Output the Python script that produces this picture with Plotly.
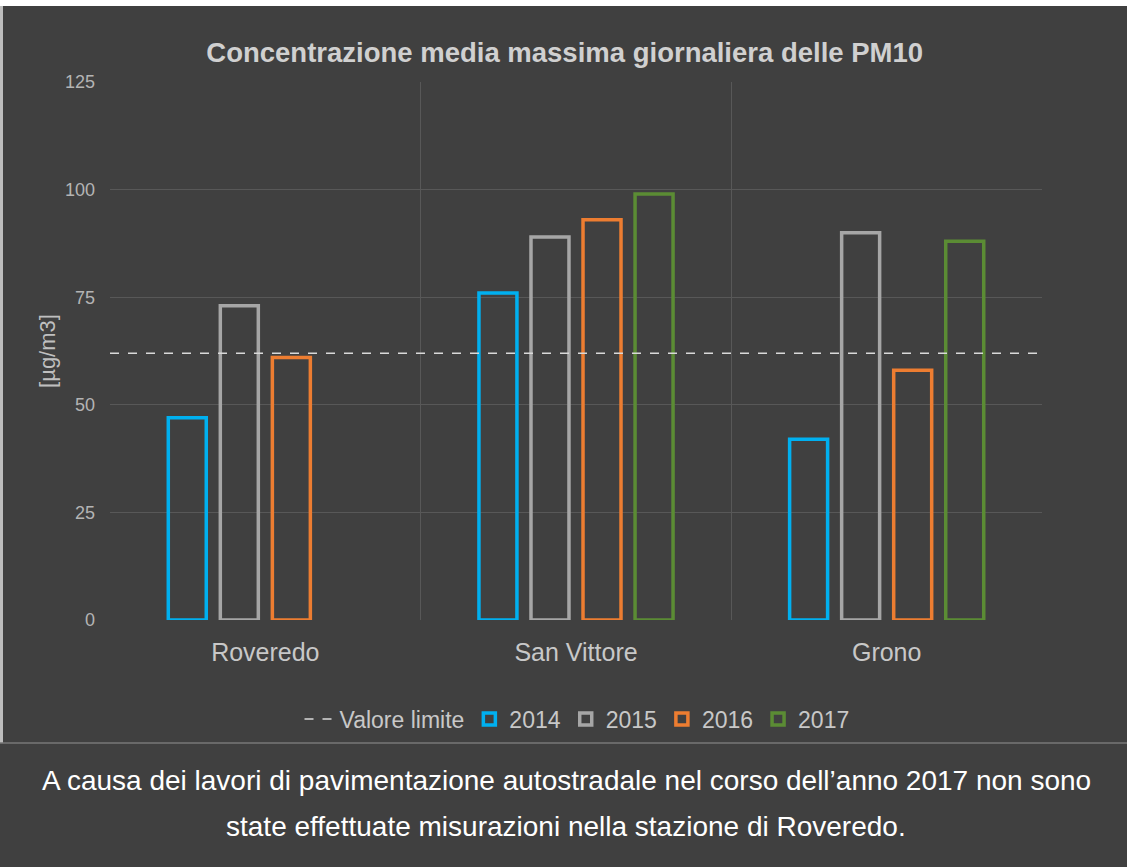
import plotly.graph_objects as go

categories = ["Roveredo", "San Vittore", "Grono"]
years = ["2014", "2015", "2016", "2017"]
values = {
    "2014": [47, 76, 42],
    "2015": [73, 89, 90],
    "2016": [61, 93, 58],
    "2017": [None, 99, 88],
}
limit_value = 62
limit_name = "Valore limite"
title_text = "Concentrazione media massima giornaliera delle PM10"
y_title = "[µg/m3]"
caption_lines = [
    "A causa dei lavori di pavimentazione autostradale nel corso dell’anno 2017 non sono",
    "state effettuate misurazioni nella stazione di Roveredo.",
]

colors = {"2014": "#00b0f0", "2015": "#a6a6a6", "2016": "#ed7d31", "2017": "#5b8c34"}
BG = "#404040"
FONT = "Liberation Sans, Arial, sans-serif"

W, H = 1127, 867
L, R, T, B = 110, 85, 82, 247
PW, PH = W - L - R, H - T - B


def px_x(x):
    return (x - L) / PW


def px_y(y):
    return (H - B - y) / PH


fig = go.Figure()

fig.add_trace(go.Scatter(
    x=[0, 1], y=[limit_value, limit_value], xaxis="x2", mode="lines",
    name=limit_name, line=dict(color="#d9d9d9", width=1.5, dash="dash"),
    hoverinfo="skip",
))

for yr in years:
    fig.add_trace(go.Bar(
        x=categories, y=values[yr], name=yr,
        marker=dict(color="rgba(0,0,0,0)", line=dict(color=colors[yr], width=3.5)),
    ))

fig.update_layout(
    width=W, height=H,
    paper_bgcolor=BG, plot_bgcolor=BG,
    margin=dict(l=L, r=R, t=T, b=B),
    barmode="group", bargap=0.33, bargroupgap=0.27,
    font=dict(family=FONT, color="#bfbfbf"),
    title=dict(text="<b>" + title_text + "</b>", x=px_x(577), xanchor="center",
               y=1 - 52 / H, yanchor="middle",
               font=dict(size=27.5, color="#d0d0d0", family=FONT)),
    xaxis=dict(
        type="category", tickson="boundaries", showgrid=True,
        gridcolor="#585858", gridwidth=1, ticklen=0,
        tickfont=dict(size=25, color="#c8c8c8"), ticklabelstandoff=15,
        showline=False, zeroline=False,
    ),
    xaxis2=dict(overlaying="x", range=[0, 1], visible=False),
    yaxis=dict(
        range=[0, 125], dtick=25, showgrid=True, gridcolor="#585858", gridwidth=1,
        zeroline=False, showline=False, ticks="",
        tickfont=dict(size=18, color="#b4b4b4"), ticklabelstandoff=14,
        title=dict(text=y_title, font=dict(size=22, color="#bfbfbf"), standoff=3),
    ),
    legend=dict(
        orientation="h", x=px_x(577), xanchor="center", y=px_y(719), yanchor="middle",
        font=dict(size=23, color="#c8c8c8"), bgcolor="rgba(0,0,0,0)",
        itemwidth=30, traceorder="normal",
    ),
    showlegend=True,
)

# frame decorations
fig.add_shape(type="rect", xref="paper", yref="paper", x0=px_x(0), x1=px_x(W),
              y0=px_y(6), y1=px_y(-2), fillcolor="white",
              line=dict(width=0), layer="above")
fig.add_shape(type="line", xref="paper", yref="paper", x0=px_x(1.5), x1=px_x(1.5),
              y0=px_y(743), y1=px_y(6), line=dict(color="#bdbdbd", width=3))
fig.add_shape(type="line", xref="paper", yref="paper", x0=px_x(0), x1=px_x(W),
              y0=px_y(743), y1=px_y(743), line=dict(color="#777777", width=1.5))

for i, line in enumerate(caption_lines):
    ypix = [780, 826][i]
    fig.add_annotation(text=line, xref="paper", yref="paper",
                       x=px_x(566), y=px_y(ypix),
                       xanchor="center", yanchor="middle", showarrow=False,
                       font=dict(size=28, color="#ffffff", family=FONT))

fig.write_html("out.html", config={"displayModeBar": False},
               post_script="document.body.style.margin='0';")
